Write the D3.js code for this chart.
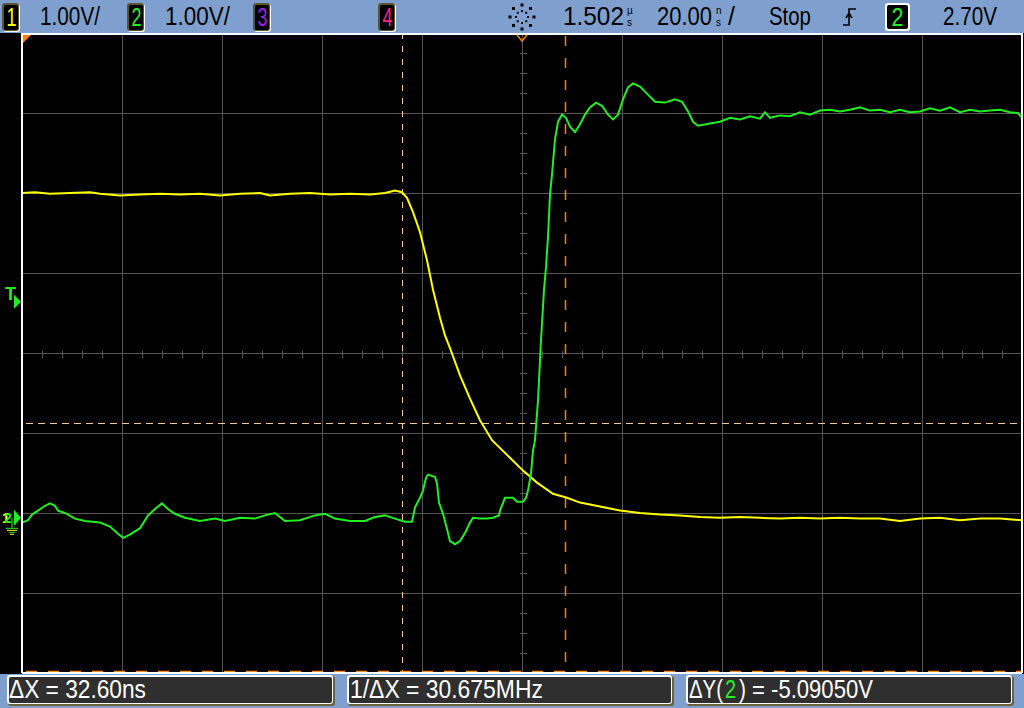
<!DOCTYPE html>
<html lang="en">
<head>
    <meta charset="UTF-8">
    <title>Scope capture</title>
    <style>
        body {
            margin: 0;
            padding: 0;
            background: #000;
            font-family: "Liberation Sans", Arial, sans-serif;
        }
        svg { display: block; }
    </style>
</head>
<body>
<svg id="scope"></svg>

<script src="https://d3js.org/d3.v7.min.js"></script>
<script>
    // channel 1 (yellow), time in ns relative to trigger, volts
    var ch1Time = [-100, -97.4, -94.4, -90.4, -86.4, -84.4, -80.4, -76.4, -72.4, -68.4, -64.4, -60.4, -56.4,
        -52.4, -50.4, -46.4, -42.4, -38.4, -34.4, -30.4, -27.4, -25.4, -24.0, -23.0, -21.8, -20.4, -19.0,
        -17.8, -16.4, -15.4, -14.4, -12.4, -10.4, -8.4, -6.0, -2.4, 0.2, 3.0, 6.2, 9.0, 11.6, 15.6, 19.6,
        23.6, 27.6, 31.6, 35.6, 39.6, 43.6, 47.6, 51.6, 55.6, 59.6, 63.6, 67.6, 71.6, 75.6, 79.6, 83.6,
        87.6, 91.6, 95.6, 100];
    var ch1Volts = [4.06, 4.07, 4.05, 4.06, 4.07, 4.05, 4.03, 4.04, 4.05, 4.04, 4.05, 4.03, 4.05,
        4.06, 4.03, 4.05, 4.06, 4.04, 4.05, 4.04, 4.06, 4.09, 4.07, 4.00, 3.82, 3.57, 3.22,
        2.85, 2.50, 2.28, 2.12, 1.78, 1.49, 1.22, 0.97, 0.75, 0.59, 0.44, 0.30, 0.25, 0.19, 0.14, 0.09,
        0.06, 0.04, 0.03, 0.01, 0.00, 0.01, 0.00, -0.01, 0.00, -0.01, 0.00, -0.01, -0.01, -0.04, -0.01, 0.00,
        -0.03, -0.01, -0.01, -0.03];

    // channel 2 (green)
    var ch2Time = [-100, -98.8, -98.0, -96.8, -95.4, -94.4, -93.4, -92.8, -91.4, -89.4, -87.4, -84.4, -82.4,
        -80.8, -79.8, -78.4, -76.4, -74.8, -73.4, -72.0, -70.8, -69.4, -67.4, -64.4, -61.4, -59.4, -56.4,
        -53.4, -51.4, -49.4, -47.4, -44.4, -41.4, -39.4, -37.4, -34.4, -31.4, -29.4, -27.4, -25.4, -23.4,
        -22.0, -21.4, -20.4, -19.8, -19.2, -18.8, -17.4, -17.0, -16.6, -15.8, -15.0, -14.4, -13.4, -12.4,
        -11.4, -10.4, -9.8, -8.4, -7.0, -5.8, -4.6, -4.4, -3.4, -1.8, -1.0, 0.2, 0.8, 1.2, 1.8, 2.2, 2.6,
        3.2, 3.8, 4.4, 4.8, 5.2, 5.6, 6.0, 6.6, 7.2, 8.0, 8.8, 9.6, 10.6, 11.6, 12.6, 13.6, 14.8, 16.0,
        17.2, 18.2, 19.2, 20.2, 21.2, 22.2, 23.6, 25.2, 26.6, 28.6, 30.6, 32.0, 33.2, 34.2, 35.2, 37.6,
        39.6, 41.6, 43.6, 45.6, 47.6, 48.6, 49.6, 51.6, 53.6, 55.6, 57.6, 59.6, 61.6, 63.6, 65.6, 67.6,
        69.6, 71.6, 73.6, 75.6, 77.6, 79.6, 81.6, 83.6, 85.6, 87.6, 89.6, 91.6, 93.6, 95.6, 97.6, 99.2, 100];
    var ch2Volts = [-0.06, -0.03, 0.04, 0.09, 0.15, 0.18, 0.15, 0.09, 0.06, -0.01, -0.04, -0.06, -0.11,
        -0.20, -0.25, -0.21, -0.13, 0.03, 0.11, 0.18, 0.11, 0.05, 0.00, -0.04, -0.01, -0.04, 0.00,
        -0.01, 0.03, 0.06, -0.04, -0.03, 0.03, 0.05, -0.01, -0.04, -0.04, 0.01, 0.03, -0.01, -0.05,
        -0.05, 0.13, 0.25, 0.34, 0.50, 0.54, 0.51, 0.43, 0.19, 0.05, -0.14, -0.29, -0.33, -0.29,
        -0.19, -0.06, 0.00, -0.01, -0.01, 0.00, 0.03, 0.09, 0.25, 0.25, 0.20, 0.20, 0.25, 0.34, 0.55, 0.84, 0.97,
        1.47, 2.22, 2.85, 3.13, 3.51, 4.04, 4.29, 4.73, 4.95, 5.04, 5.00, 4.89, 4.82, 4.92, 5.04, 5.13, 5.19, 5.15,
        5.04, 4.98, 5.04, 5.23, 5.38, 5.43, 5.39, 5.29, 5.20, 5.19, 5.23, 5.20, 5.08, 4.95, 4.90, 4.93,
        4.95, 5.00, 4.98, 5.02, 4.99, 5.07, 5.00, 5.03, 5.02, 5.07, 5.04, 5.09, 5.10, 5.08, 5.10, 5.13,
        5.09, 5.10, 5.07, 5.10, 5.07, 5.08, 5.12, 5.09, 5.13, 5.07, 5.10, 5.08, 5.09, 5.10, 5.07, 5.06, 5.00];

    // settings
    var timeTicks = d3.range(-100, 101, 20);     // 20 ns/div
    var voltCenter = 2.06;                       // screen centre in volts
    var voltDivs = d3.range(-4, 5);              // 1 V/div
    var cursorX = [-24.0, 8.6];                  // ns
    var cursorY = [1.18, -1.95];                 // V
    var triggerLevel = 2.70;

    var W = 1024, H = 708;
    var plot = { left: 22, right: 1022, top: 33, bottom: 673 };

    var svg = d3.select("#scope").attr("width", W).attr("height", H);

    var x = d3.scaleLinear().domain([-100, 100]).range([plot.left, plot.right]);
    var y = d3.scaleLinear().domain([voltCenter - 4, voltCenter + 4]).range([plot.bottom, plot.top]);

    svg.append("rect").attr("width", W).attr("height", H).attr("fill", "#000");

    // narrow text: measure, then squeeze horizontally to width w
    function squeezed(parent, x0, y0, w, s, size, color, anchor) {
        var t = parent.append("text").attr("font-size", size).attr("fill", color).text(s);
        var len = t.node().getComputedTextLength();
        var sx = w / len;
        var dx = anchor === "middle" ? -w / 2 : 0;
        t.attr("transform", "translate(" + (x0 + dx) + "," + y0 + ") scale(" + sx + ",1)");
        return t;
    }

    // grid
    var grid = svg.append("g").attr("stroke", "#555").attr("stroke-width", 1).attr("shape-rendering", "crispEdges");
    grid.selectAll(".vx").data(timeTicks).enter().append("line")
        .attr("x1", d => Math.round(x(d)) + 0.5).attr("x2", d => Math.round(x(d)) + 0.5)
        .attr("y1", plot.top).attr("y2", plot.bottom);
    grid.selectAll(".hy").data(voltDivs).enter().append("line")
        .attr("y1", d => Math.round(y(voltCenter + d)) + 0.5).attr("y2", d => Math.round(y(voltCenter + d)) + 0.5)
        .attr("x1", plot.left).attr("x2", plot.right);

    // minor ticks on the centre axes
    var minorT = d3.range(-100, 101, 4);
    var minorV = d3.range(-4, 4.01, 0.25);
    var yc = Math.round(y(voltCenter)) + 0.5, xc = Math.round(x(0)) + 0.5;
    grid.selectAll(".mt").data(minorT).enter().append("line")
        .attr("x1", d => Math.round(x(d)) + 0.5).attr("x2", d => Math.round(x(d)) + 0.5)
        .attr("y1", yc - 3).attr("y2", yc + 4);
    grid.selectAll(".mv").data(minorV).enter().append("line")
        .attr("y1", d => Math.round(y(voltCenter + d)) + 0.5).attr("y2", d => Math.round(y(voltCenter + d)) + 0.5)
        .attr("x1", xc - 3).attr("x2", xc + 4);

    // cursors
    svg.append("line").attr("x1", x(cursorX[0]) + 0.5).attr("x2", x(cursorX[0]) + 0.5)
        .attr("y1", plot.top).attr("y2", plot.bottom)
        .attr("stroke", "#ffc890").attr("stroke-width", 1).attr("stroke-dasharray", "6,7");
    svg.append("line").attr("x1", x(cursorX[1]) + 0.5).attr("x2", x(cursorX[1]) + 0.5)
        .attr("y1", plot.top + 3).attr("y2", plot.bottom)
        .attr("stroke", "#ff7f00").attr("stroke-width", 1.5).attr("stroke-dasharray", "10,12");
    svg.append("line").attr("y1", Math.round(y(cursorY[0])) + 0.5).attr("y2", Math.round(y(cursorY[0])) + 0.5)
        .attr("x1", plot.left + 4).attr("x2", plot.right)
        .attr("stroke", "#f5c898").attr("stroke-width", 1).attr("stroke-dasharray", "7,5");
    svg.append("line").attr("y1", Math.min(y(cursorY[1]), plot.bottom - 1.5)).attr("y2", Math.min(y(cursorY[1]), plot.bottom - 1.5))
        .attr("x1", plot.left + 4).attr("x2", plot.right)
        .attr("stroke", "#ff8c1a").attr("stroke-width", 1.5).attr("stroke-dasharray", "11,11");

    // traces
    var line = d3.line().x(d => x(d[0])).y(d => y(d[1]));
    var ch1 = ch1Time.map((t, i) => [t, ch1Volts[i]]);
    var ch2 = ch2Time.map((t, i) => [t, ch2Volts[i]]);
    svg.append("path").datum(ch1).attr("d", line)
        .attr("fill", "none").attr("stroke", "#ffff00").attr("stroke-width", 2);
    svg.append("path").datum(ch2).attr("d", line)
        .attr("fill", "none").attr("stroke", "#22ee22").attr("stroke-width", 2);

    // frame
    var frame = svg.append("g").attr("stroke", "#fff").attr("stroke-width", 2).attr("shape-rendering", "crispEdges");
    frame.append("line").attr("x1", plot.left).attr("x2", plot.left).attr("y1", plot.top).attr("y2", plot.bottom);
    frame.append("line").attr("x1", plot.right).attr("x2", plot.right).attr("y1", plot.top).attr("y2", plot.bottom);
    frame.append("line").attr("x1", plot.left).attr("x2", plot.right).attr("y1", plot.top + 1).attr("y2", plot.top + 1);
    frame.append("line").attr("x1", plot.left).attr("x2", plot.right).attr("y1", plot.bottom).attr("y2", plot.bottom);

    // markers at the top edge
    svg.append("path").attr("d", "M" + (plot.left + 1) + "," + (plot.top + 2) + "h8l-8,8z").attr("fill", "#ff8000");
    var xt = x(0);
    svg.append("path").attr("d", "M" + (xt - 5) + "," + (plot.top + 2) + "L" + xt + "," + (plot.top + 8) + "L" + (xt + 5) + "," + (plot.top + 2))
        .attr("fill", "none").attr("stroke", "#ff8000").attr("stroke-width", 1.5);
    svg.append("line").attr("x1", x(cursorX[0]) + 0.5).attr("x2", x(cursorX[0]) + 0.5)
        .attr("y1", plot.top + 2).attr("y2", plot.top + 6).attr("stroke", "#ffc890");

    // left markers: trigger level and ground
    var yT = y(triggerLevel);
    svg.append("text").attr("x", 5).attr("y", yT - 2).attr("fill", "#22ee22")
        .attr("font-size", 18).attr("font-weight", "bold").text("T");
    svg.append("path").attr("d", "M14," + (yT - 7) + "L21," + yT + "L14," + (yT + 7) + "z").attr("fill", "#22ee22");
    var yG = y(0);
    svg.append("path").attr("d", "M14," + (yG - 8) + "L21," + yG + "L14," + (yG + 8) + "z").attr("fill", "#22ee22");
    svg.append("text").attr("x", 2).attr("y", yG + 5).attr("fill", "#ffff00").attr("font-size", 14).attr("font-weight", "bold").text("1");
    svg.append("text").attr("x", 4).attr("y", yG + 5).attr("fill", "#22ee22").attr("font-size", 14).attr("font-weight", "bold").text("2");
    var gnd = svg.append("g").attr("stroke-width", 1);
    gnd.append("line").attr("x1", 12).attr("x2", 12).attr("y1", yG).attr("y2", yG + 10).attr("stroke", "#22ee22");
    [[6, 18, "#22ee22"], [7, 17, "#ffff00"], [9, 15, "#22ee22"], [10, 14, "#ffff00"]].forEach(function (g, i) {
        gnd.append("line").attr("x1", g[0]).attr("x2", g[1]).attr("y1", yG + 10 + i * 2 + 0.5).attr("y2", yG + 10 + i * 2 + 0.5).attr("stroke", g[2]);
    });

    // ---- top status bar
    var barColor = "#7fa0cf";
    svg.append("rect").attr("width", W).attr("height", plot.top).attr("fill", barColor);

    function chanBox(x0, w, label, color, borderColor) {
        var g = svg.append("g");
        g.append("rect").attr("x", x0 + 1).attr("y", 4).attr("width", w).attr("height", 28).attr("rx", 3)
            .attr("fill", "#fff");
        g.append("rect").attr("x", x0).attr("y", 3).attr("width", w).attr("height", 28).attr("rx", 3)
            .attr("fill", borderColor);
        g.append("rect").attr("x", x0 + 2).attr("y", 5).attr("width", w - 3).attr("height", 25).attr("rx", 2)
            .attr("fill", "#000");
        squeezed(g, x0 + w / 2 + 1, 26, w - 7, label, 25, color, "middle");
    }
    function barText(x0, w, s) {
        squeezed(svg, x0, 25, w, s, 26, "#000");
    }
    chanBox(2, 17, "1", "#ffff00", "#5c5630");
    barText(40, 60, "1.00V/");
    chanBox(127, 17, "2", "#22ee22", "#5c5630");
    barText(165, 65, "1.00V/");
    chanBox(253, 17, "3", "#a020f0", "#5c5630");
    chanBox(378, 17, "4", "#ff1f8f", "#5c5630");

    // acquisition icon
    var sun = svg.append("g").attr("fill", "#000");
    d3.range(8).forEach(function (i) {
        var a = i * Math.PI / 4;
        sun.append("rect").attr("x", 522 + Math.cos(a) * 12 - 1.5).attr("y", 17 + Math.sin(a) * 12 - 1.5)
            .attr("width", 3).attr("height", 3);
        sun.append("rect").attr("x", 522 + Math.cos(a) * 6 - 1).attr("y", 17 + Math.sin(a) * 6 - 1)
            .attr("width", 2).attr("height", 2);
    });

    // stacked unit labels
    function unit(x0, top, bottom) {
        svg.append("text").attr("x", x0).attr("y", 14).attr("font-size", 10).attr("fill", "#000").text(top);
        svg.append("text").attr("x", x0).attr("y", 26).attr("font-size", 10).attr("fill", "#000").text(bottom);
    }
    barText(563, 61, "1.502");
    unit(627, "µ", "s");
    barText(657, 55, "20.00");
    unit(716, "n", "s");
    svg.append("text").attr("x", 728).attr("y", 25).attr("font-size", 25).attr("fill", "#000").text("/");
    barText(769, 42, "Stop");
    // rising edge symbol
    svg.append("path").attr("d", "M843,25H849V9H856M846,18L849,13L852,18")
        .attr("fill", "none").attr("stroke", "#000").attr("stroke-width", 1.6);
    // trigger source box
    svg.append("rect").attr("x", 885).attr("y", 3).attr("width", 25).attr("height", 28).attr("rx", 3).attr("fill", "#fff");
    svg.append("rect").attr("x", 887).attr("y", 5).attr("width", 21).attr("height", 24).attr("rx", 2).attr("fill", "#000");
    squeezed(svg, 897.5, 26, 12, "2", 25, "#22ee22", "middle");
    barText(943, 54, "2.70V");

    // ---- bottom measurement bar
    svg.append("rect").attr("x", 0).attr("y", plot.bottom + 1).attr("width", W).attr("height", H - plot.bottom - 1).attr("fill", barColor);
    var boxes = [
        { x0: 7, w: 327, parts: [[9, 137, "ΔX = 32.60ns", "#fff"]] },
        { x0: 347, w: 326, parts: [[350, 193, "1/ΔX = 30.675MHz", "#fff"]] },
        { x0: 686, w: 327, parts: [[689, 34, "ΔY(", "#fff"], [725, 11, "2", "#22ee22"], [739, 7, ")", "#fff"],
            [752, 121, "= -5.09050V", "#fff"]] }
    ];
    boxes.forEach(function (b) {
        svg.append("rect").attr("x", b.x0 + 1).attr("y", 676).attr("width", b.w).attr("height", 30).attr("rx", 3).attr("fill", "#6b6337");
        svg.append("rect").attr("x", b.x0).attr("y", 675).attr("width", b.w - 1).attr("height", 29).attr("rx", 3).attr("fill", "#fff");
        svg.append("rect").attr("x", b.x0 + 2).attr("y", 677).attr("width", b.w - 4).attr("height", 26).attr("rx", 2).attr("fill", "#2f2f2f");
        b.parts.forEach(function (p) {
            squeezed(svg, p[0], 698, p[1], p[2], 25, p[3]);
        });
    });
</script>
</body>
</html>
